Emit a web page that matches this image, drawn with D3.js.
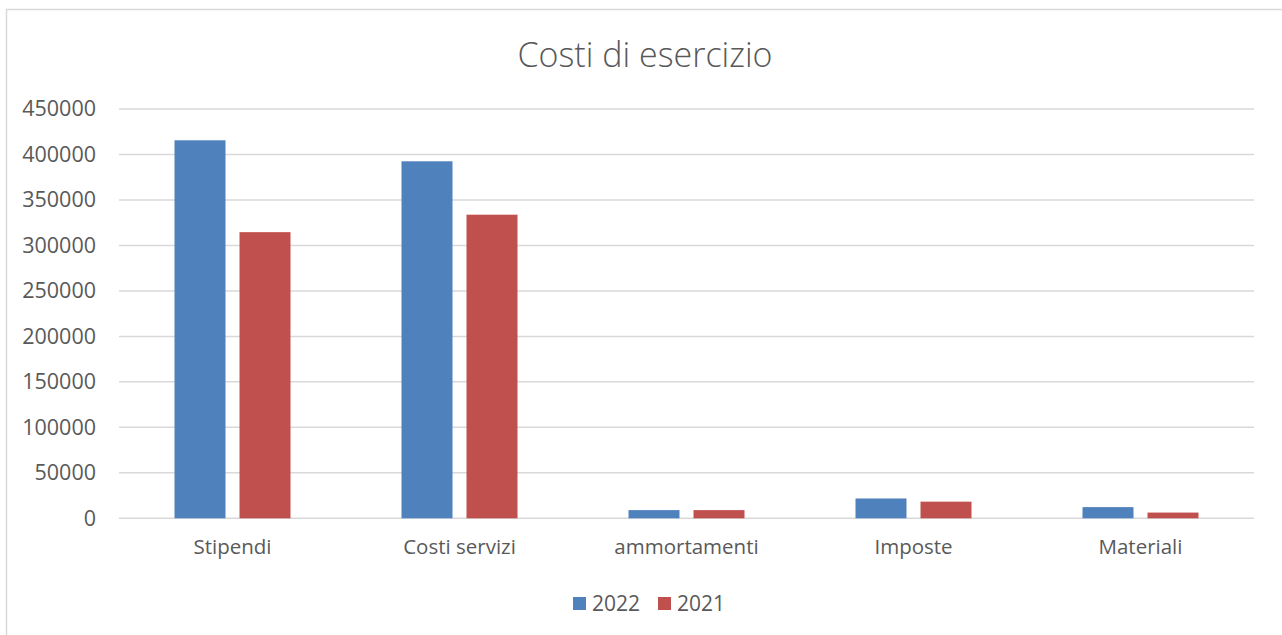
<!DOCTYPE html>
<html>
<head>
<meta charset="utf-8">
<script src="https://cdn.jsdelivr.net/npm/d3@7"></script>
<style>
  body { margin: 0; background: #fff; }
  svg { display: block; font-family: 'Open Sans', sans-serif; }
</style>
</head>
<body>
<div id="chart"></div>
<script>
const categories = ['Stipendi', 'Costi servizi', 'ammortamenti', 'Imposte', 'Materiali'];
const seriesNames = ['2022', '2021'];
const values2022 = [415600, 392500, 9000, 21800, 12300];
const values2021 = [314600, 333800, 9000, 18300, 6300];
const yTicks = [0, 50000, 100000, 150000, 200000, 250000, 300000, 350000, 400000, 450000];
const title = 'Costi di esercizio';

const width = 1282;
const height = 635;
const colors = ['#4F81BD', '#C0504D'];
const textColor = '#595959';
const gridColor = '#D9D9D9';

const plot = { left: 119, right: 1254, top: 109, bottom: 518.3 };

const svg = d3.select('#chart')
  .append('svg')
  .attr('width', width)
  .attr('height', height);

svg.append('rect')
  .attr('x', 6.5)
  .attr('y', 9.5)
  .attr('width', width + 10)
  .attr('height', height + 10)
  .attr('fill', '#fff')
  .attr('stroke', gridColor)
  .attr('stroke-width', 1.5);

svg.append('text')
  .attr('x', 645)
  .attr('y', 67)
  .attr('text-anchor', 'middle')
  .attr('fill', textColor)
  .style('font-size', '34px')
  .style('font-weight', 300)
  .text(title);

const x = d3.scaleBand(categories, [plot.left, plot.right]);
const y = d3.scaleLinear([0, 450000], [plot.bottom, plot.top]);

const barWidth = 51;
const innerGap = 14;
const x1 = d3.scaleOrdinal(seriesNames, [-(innerGap / 2 + barWidth), innerGap / 2]);

// grid
svg.append('g')
  .selectAll('line')
  .data(yTicks)
  .join('line')
  .attr('x1', plot.left)
  .attr('x2', plot.right)
  .attr('y1', (d) => y(d))
  .attr('y2', (d) => y(d))
  .attr('stroke', gridColor)
  .attr('stroke-width', 1.5);

const yAxis = d3.axisLeft(y)
  .tickValues(yTicks)
  .tickFormat(d3.format('d'))
  .tickSize(0)
  .tickPadding(0);

svg.append('g')
  .attr('transform', 'translate(96,0)')
  .call(yAxis)
  .call((g) => g.select('.domain').remove())
  .call((g) => g.selectAll('text')
    .attr('fill', textColor)
    .style('font-size', '21.5px')
    .style('font-family', "'Open Sans', sans-serif"));

const rows = categories.map((c, i) => ({ cat: c, values: [values2022[i], values2021[i]] }));

const groups = svg.append('g')
  .selectAll('g')
  .data(rows)
  .join('g')
  .attr('transform', (d) => `translate(${x(d.cat) + x.bandwidth() / 2},0)`);

groups.selectAll('rect')
  .data((d) => d.values.map((v, i) => ({ key: seriesNames[i], v })))
  .join('rect')
  .attr('x', (d) => x1(d.key))
  .attr('y', (d) => y(d.v))
  .attr('width', barWidth)
  .attr('height', (d) => y(0) - y(d.v))
  .attr('fill', (d, i) => colors[i]);

const xAxis = d3.axisBottom(x)
  .tickSize(0)
  .tickPadding(0);

svg.append('g')
  .attr('transform', `translate(0,${plot.bottom + 21})`)
  .call(xAxis)
  .call((g) => g.select('.domain').remove())
  .call((g) => g.selectAll('text')
    .attr('dy', '0.71em')
    .attr('fill', textColor)
    .style('font-size', '20.5px')
    .style('font-family', "'Open Sans', sans-serif"));

// legend
const legend = svg.append('g')
  .attr('transform', 'translate(573,597)');

const legendItems = legend.selectAll('g')
  .data(seriesNames)
  .join('g')
  .attr('transform', (d, i) => `translate(${i * 85},0)`);

legendItems.append('rect')
  .attr('width', 13)
  .attr('height', 13)
  .attr('fill', (d, i) => colors[i]);

legendItems.append('text')
  .attr('x', 19)
  .attr('y', 14)
  .attr('fill', textColor)
  .style('font-size', '21px')
  .text((d) => d);
</script>
</body>
</html>
